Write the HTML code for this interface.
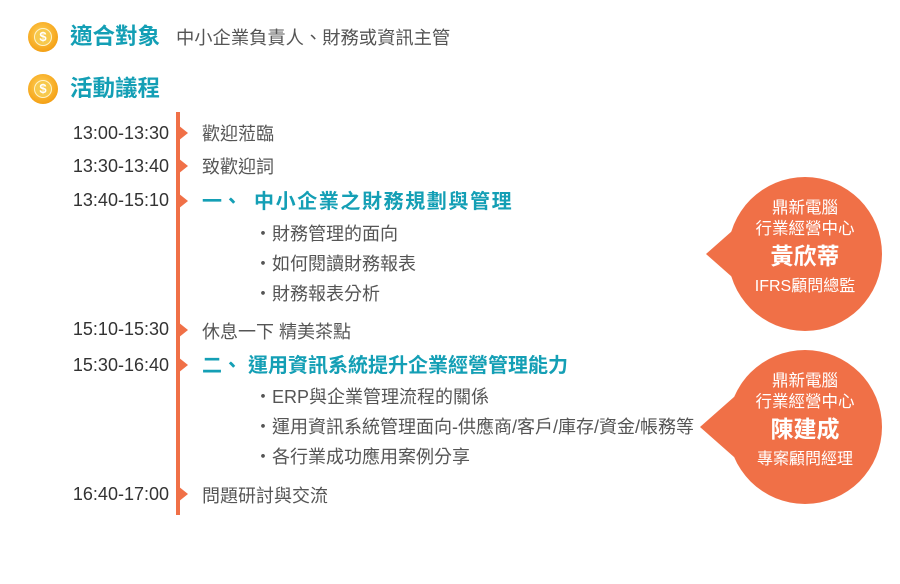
<!DOCTYPE html>
<html><head><meta charset="utf-8"><style>
body{margin:0;width:900px;height:584px;background:#fff;position:relative;overflow:hidden;font-family:"Liberation Sans","Noto Sans CJK TC",sans-serif;}
.a{position:absolute;white-space:nowrap;line-height:1;}
.t{font-size:18px;color:#333;right:731px;text-align:right;}
.i{font-size:18px;color:#555;left:202px;}
.s{font-size:18px;color:#555;left:254px;}
.h{font-size:20px;color:#149fb5;font-weight:bold;}
.arr{position:absolute;left:178px;width:0;height:0;border-top:8px solid transparent;border-bottom:8px solid transparent;border-left:10px solid #f07047;}
.coin{position:absolute;left:28px;width:30px;height:30px;border-radius:50%;background:radial-gradient(circle at 45% 40%,#ffd25a,#f5a318 70%,#e08a10);}
.coin span{position:absolute;left:6px;top:6px;width:18px;height:18px;border-radius:50%;background:#f7c94d;border:1px solid #fff3c8;box-sizing:border-box;color:#fff;font:bold 13px "Liberation Sans",sans-serif;text-align:center;line-height:16px;}
.bub{position:absolute;color:#fff;text-align:center;}
</style></head><body>
<div class="coin" style="top:22px"><span>$</span></div>
<div class="a" style="left:70px;top:26px;font-size:22.5px;font-weight:bold;color:#149fb5">適合對象</div>
<div class="a" style="left:176px;top:29px;font-size:18.3px;color:#555">中小企業負責人、財務或資訊主管</div>
<div class="coin" style="top:74px"><span>$</span></div>
<div class="a" style="left:70px;top:78px;font-size:22.5px;font-weight:bold;color:#149fb5">活動議程</div>

<div style="position:absolute;left:176px;top:112px;width:4px;height:403px;background:#f07047"></div>

<div class="arr" style="top:125px"></div><div class="a t" style="top:124px">13:00-13:30</div><div class="a i" style="top:125px">歡迎蒞臨</div>
<div class="arr" style="top:158px"></div><div class="a t" style="top:157px">13:30-13:40</div><div class="a i" style="top:158px">致歡迎詞</div>
<div class="arr" style="top:193px"></div><div class="a t" style="top:191px">13:40-15:10</div>
<div class="a h" style="left:202px;top:192px">一、</div><div class="a h" style="left:254px;top:192px;letter-spacing:1.6px">中小企業之財務規劃與管理</div>
<div class="a s" style="top:225px">‧財務管理的面向</div>
<div class="a s" style="top:255px">‧如何閱讀財務報表</div>
<div class="a s" style="top:285px">‧財務報表分析</div>
<div class="arr" style="top:322px"></div><div class="a t" style="top:320px">15:10-15:30</div><div class="a i" style="top:323px">休息一下 精美茶點</div>
<div class="arr" style="top:357px"></div><div class="a t" style="top:356px">15:30-16:40</div>
<div class="a h" style="left:202px;top:356px">二、</div><div class="a h" style="left:248px;top:356px">運用資訊系統提升企業經營管理能力</div>
<div class="a s" style="top:388px">‧ERP與企業管理流程的關係</div>
<div class="a s" style="top:418px">‧運用資訊系統管理面向-供應商/客戶/庫存/資金/帳務等</div>
<div class="a s" style="top:448px">‧各行業成功應用案例分享</div>
<div class="arr" style="top:486px"></div><div class="a t" style="top:485px">16:40-17:00</div><div class="a i" style="top:487px">問題研討與交流</div>

<svg style="position:absolute;left:0;top:0" width="900" height="584">
<circle cx="805" cy="254" r="77" fill="#f07047"/><polygon points="706,254 740,224 740,284" fill="#f07047"/>
<circle cx="805" cy="427" r="77" fill="#f07047"/><polygon points="700,427 734,397 734,457" fill="#f07047"/>
</svg>
<div class="bub" style="left:730px;top:198px;width:150px">
<div style="font-size:16.5px;line-height:21px">鼎新電腦<br>行業經營中心</div>
<div style="font-size:23px;font-weight:bold;line-height:32px">黃欣蒂</div>
<div style="font-size:16px;line-height:22px;margin-top:4px">IFRS顧問總監</div></div>
<div class="bub" style="left:730px;top:371px;width:150px">
<div style="font-size:16.5px;line-height:21px">鼎新電腦<br>行業經營中心</div>
<div style="font-size:23px;font-weight:bold;line-height:32px">陳建成</div>
<div style="font-size:16px;line-height:22px;margin-top:4px">專案顧問經理</div></div>
</body></html>
